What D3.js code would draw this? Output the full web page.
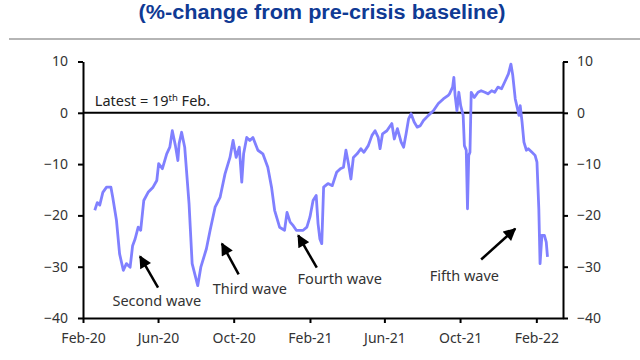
<!DOCTYPE html>
<html><head><meta charset="utf-8">
<script src="https://cdn.jsdelivr.net/npm/d3@7"></script>
<style>html,body{margin:0;padding:0;background:#fff;}svg{display:block;}</style>
</head><body>
<script>
const titleText = "(%-change from pre-crisis baseline)";
const dates = ["2020-02-20","2020-02-24","2020-02-28","2020-03-04","2020-03-10","2020-03-17","2020-03-20","2020-03-26","2020-03-31","2020-04-06",
"2020-04-11","2020-04-17","2020-04-21","2020-04-25","2020-04-30","2020-05-04","2020-05-09","2020-05-16","2020-05-24","2020-05-30",
"2020-06-02","2020-06-08","2020-06-15","2020-06-20","2020-06-24","2020-06-29","2020-07-03","2020-07-05","2020-07-09","2020-07-14",
"2020-07-21","2020-07-26","2020-08-04","2020-08-09","2020-08-18","2020-08-24","2020-09-01","2020-09-09","2020-09-17","2020-09-25",
"2020-09-30","2020-10-05","2020-10-10","2020-10-14","2020-10-17","2020-10-22","2020-10-27","2020-11-01","2020-11-09","2020-11-17",
"2020-11-25","2020-12-01","2020-12-06","2020-12-14","2020-12-22","2020-12-26","2020-12-31","2021-01-05","2021-01-10","2021-01-16",
"2021-01-21","2021-01-27","2021-02-01","2021-02-06","2021-02-11","2021-02-14","2021-02-17","2021-02-20","2021-02-23","2021-03-02",
"2021-03-09","2021-03-16","2021-03-22","2021-03-27","2021-03-31","2021-04-04","2021-04-08","2021-04-12","2021-04-18","2021-04-24",
"2021-04-29","2021-05-06","2021-05-12","2021-05-17","2021-05-22","2021-05-25","2021-05-29","2021-06-05","2021-06-13","2021-06-17",
"2021-06-22","2021-06-28","2021-07-02","2021-07-06","2021-07-10","2021-07-14","2021-07-19","2021-07-24","2021-07-29","2021-08-03",
"2021-08-11","2021-08-19","2021-08-27","2021-09-04","2021-09-12","2021-09-14","2021-09-19","2021-09-21","2021-09-23","2021-09-26",
"2021-09-29","2021-10-02","2021-10-06","2021-10-08","2021-10-11","2021-10-13","2021-10-15","2021-10-17","2021-10-19","2021-10-24",
"2021-10-30","2021-11-04","2021-11-10","2021-11-15","2021-11-21","2021-11-26","2021-12-01","2021-12-07","2021-12-12","2021-12-18",
"2021-12-22","2021-12-25","2021-12-29","2022-01-01","2022-01-04","2022-01-06","2022-01-09","2022-01-12","2022-01-16","2022-01-19",
"2022-01-25","2022-01-30","2022-02-02","2022-02-05","2022-02-07","2022-02-10","2022-02-14","2022-02-17","2022-02-19"];
const values = [-19.0,-17.5,-18.0,-15.5,-14.5,-14.5,-16.5,-21.0,-27.5,-30.7,
-29.4,-30.1,-25.9,-24.6,-22.3,-22.9,-17.1,-15.5,-14.5,-13.2,
-9.9,-10.9,-8.0,-6.7,-3.5,-6.4,-9.3,-6.0,-3.8,-6.7,
-17.7,-29.4,-33.7,-30.1,-26.5,-22.9,-18.4,-16.5,-11.9,-8.7,
-5.4,-8.7,-6.7,-13.5,-8.0,-4.8,-5.4,-4.8,-7.3,-8.0,
-10.6,-14.5,-19.0,-22.3,-22.9,-19.4,-21.3,-22.0,-22.9,-22.9,
-22.9,-22.3,-20.3,-17.1,-16.1,-21.6,-24.6,-25.5,-14.5,-13.8,
-14.2,-11.6,-10.9,-10.6,-7.3,-9.9,-12.9,-8.7,-8.0,-7.0,
-7.7,-6.4,-4.4,-3.5,-4.8,-7.0,-4.1,-3.5,-2.1,-5.1,
-3.1,-5.7,-6.7,-4.1,-1.2,-0.2,-1.8,-2.8,-2.5,-1.5,
-0.5,0.4,1.8,2.7,3.4,3.7,5.0,6.9,3.4,0.4,
4.0,1.4,-0.5,-6.4,-7.3,-18.7,-8.3,-7.7,4.0,3.0,
4.0,4.3,4.0,3.7,4.3,4.0,5.0,4.7,6.0,7.6,
9.5,7.3,2.7,1.1,-0.5,1.4,-1.8,-5.7,-7.3,-7.0,
-7.7,-8.3,-9.6,-18.7,-29.4,-23.9,-23.9,-25.2,-28.1];
const xTickDates = ["2020-02-01","2020-06-01","2020-10-01","2021-02-01","2021-06-01","2021-10-01","2022-02-01"];
const yTicks = [10,0,-10,-20,-30,-40];
const waveLabels = ["Second wave","Third wave","Fourth wave","Fifth wave"];
const waveLabelDates = ["2020-05-30","2020-10-27","2021-03-21","2021-10-08"];
const waveLabelValues = [-37.6,-35.4,-33.3,-32.7];
const arrowTailDates = ["2020-06-01","2020-10-09","2021-02-12","2021-11-04"];
const arrowTailValues = [-34.1,-31.5,-30.2,-28.6];
const arrowHeadDates = ["2020-05-03","2020-09-12","2021-01-13","2021-12-29"];
const arrowHeadValues = [-28.0,-25.5,-23.9,-22.6];

const W = 640, H = 360;
const parse = d3.utcParse("%Y-%m-%d");
const svg = d3.select("body").append("svg").attr("width", W).attr("height", H);
const font = "'Noto Sans', sans-serif";

const x = d3.scaleUtc().domain([parse("2020-02-01"), parse("2022-03-16")]).range([83, 563]);
const y = d3.scaleLinear().domain([-40, 10]).range([318, 61.5]);

// title
svg.append("text").attr("x", 322).attr("y", 19).attr("text-anchor", "middle")
  .attr("font-family", "'Liberation Sans', Arial, sans-serif").attr("font-weight", "bold")
  .attr("font-size", 20).attr("fill", "#0f3a94")
  .attr("textLength", 367).attr("lengthAdjust", "spacingAndGlyphs").text(titleText);
svg.append("line").attr("x1", 9).attr("x2", 640).attr("y1", 39).attr("y2", 39)
  .attr("stroke", "#b5b5b5").attr("stroke-width", 2);

// zero line
svg.append("line").attr("x1", x.range()[0]).attr("x2", x.range()[1]).attr("y1", y(0)).attr("y2", y(0))
  .attr("stroke", "#000").attr("stroke-width", 2);

// series
const data = dates.map((d, i) => ({date: parse(d), value: values[i]}));
svg.append("path").datum(data)
  .attr("fill", "none").attr("stroke", "#8080ff").attr("stroke-width", 2.8)
  .attr("stroke-linejoin", "round")
  .attr("d", d3.line().x(d => x(d.date)).y(d => y(d.value)));

// axes
function styleAxis(g) {
  g.selectAll(".domain").attr("stroke", "#000").attr("stroke-width", 2);
  g.selectAll(".tick line").attr("stroke", "#000").attr("stroke-width", 2);
  g.selectAll("text").attr("font-family", font).attr("font-size", 14).attr("fill", "#333");
}
svg.append("g").attr("transform", `translate(0,${y(-40)})`)
  .call(d3.axisBottom(x).tickValues(xTickDates.map(parse)).tickFormat(d3.utcFormat("%b-%y")).tickSize(5).tickSizeOuter(0).tickPadding(10))
  .call(styleAxis);
svg.append("g").attr("transform", `translate(${x.range()[0]},0)`)
  .call(d3.axisLeft(y).tickValues(yTicks).tickSize(5).tickSizeOuter(0).tickPadding(10))
  .call(styleAxis);
svg.append("g").attr("transform", `translate(${x.range()[1]},0)`)
  .call(d3.axisRight(y).tickValues(yTicks).tickSize(5).tickSizeOuter(0).tickPadding(9))
  .call(styleAxis);

// latest note
const note = svg.append("text").attr("x", x(parse("2020-02-20"))).attr("y", y(1.3))
  .attr("font-family", font).attr("font-size", 14.5).attr("fill", "#222");
note.append("tspan").text("Latest = 19");
note.append("tspan").attr("dy", -5).attr("font-size", 9.5).text("th");
note.append("tspan").attr("dy", 5).text(" Feb.");

// arrows
const defs = svg.append("defs");
defs.append("marker").attr("id", "ah").attr("viewBox", "0 0 10 10").attr("refX", 9).attr("refY", 5)
  .attr("markerWidth", 5.5).attr("markerHeight", 5).attr("markerUnits", "strokeWidth").attr("orient", "auto")
  .append("path").attr("d", "M0,0 L10,5 L0,10 z").attr("fill", "#000");
waveLabels.forEach((lab, i) => {
  svg.append("line")
    .attr("x1", x(parse(arrowTailDates[i]))).attr("y1", y(arrowTailValues[i]))
    .attr("x2", x(parse(arrowHeadDates[i]))).attr("y2", y(arrowHeadValues[i]))
    .attr("stroke", "#000").attr("stroke-width", 2.5).attr("marker-end", "url(#ah)");
  svg.append("text").attr("x", x(parse(waveLabelDates[i]))).attr("y", y(waveLabelValues[i]))
    .attr("text-anchor", "middle").attr("font-family", font).attr("font-size", 14.5).attr("fill", "#333")
    .text(lab);
});
</script>
</body></html>
